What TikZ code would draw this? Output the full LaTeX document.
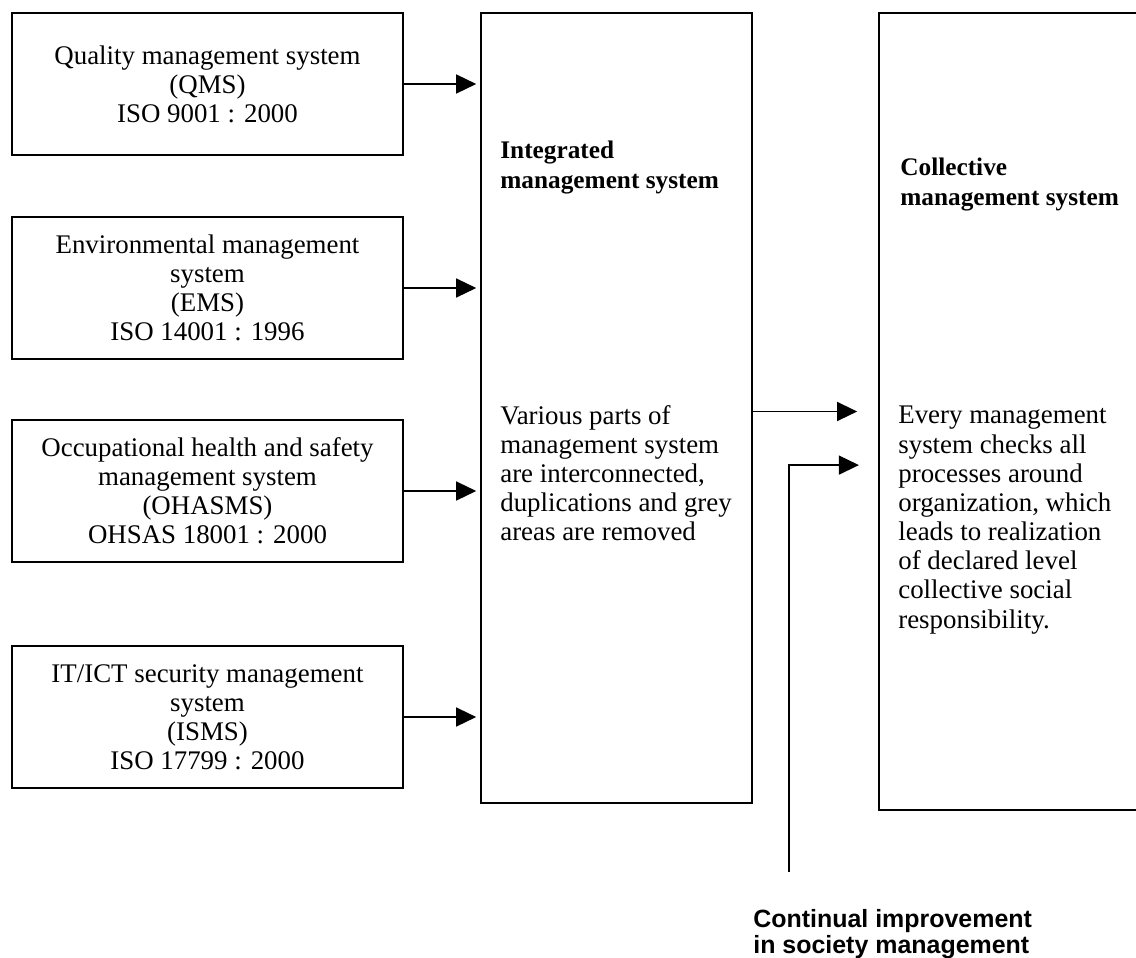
\documentclass[tikz,border=0pt]{standalone}
\usepackage{fontspec}
\setmainfont{Liberation Serif}
\newfontfamily\cilabelfont{Liberation Sans}
\usetikzlibrary{arrows.meta, positioning}

\begin{document}
\begin{tikzpicture}[x=0.02cm, y=-0.02cm,
    sysbox/.style={draw, line width=0.9pt, rectangle, inner sep=0pt,
      minimum width=7.82cm, minimum height=2.84cm, align=center,
      font=\fontsize{15.3}{16.5}\selectfont},
    bigbox/.style={draw, line width=0.9pt, rectangle, inner sep=0pt},
    boxtitle/.style={inner sep=0pt, anchor=north west, align=left,
      font=\fontsize{14.4}{17}\selectfont\bfseries},
    boxtext/.style={inner sep=0pt, anchor=north west, align=left,
      font=\fontsize{15.3}{16.6}\selectfont},
    arr/.style={line width=0.8pt, -{Triangle[length=0.4cm, width=0.38cm]}}]
  \useasboundingbox (0,0) rectangle (1136,957);

  % the four systems on the left
  \node[sysbox] (qms) at (207.5,84) {Quality management system\\(QMS)\\ISO 9001 : 2000};
  \node[sysbox] (ems) at (207.5,288) {Environmental management\\system\\(EMS)\\ISO 14001 : 1996};
  \node[sysbox] (ohasms) at (207.5,491) {Occupational health and safety\\management system\\(OHASMS)\\OHSAS 18001 : 2000};
  \node[sysbox] (isms) at (207.5,717) {IT/ICT security management\\system\\(ISMS)\\ISO 17799 : 2000};

  % integrated management system
  \node[bigbox, minimum width=5.42cm, minimum height=15.8cm] (ims) at (616.5,408) {};
  \node[boxtitle] (imstitle) at (500,141) {Integrated\\management system};
  \node[boxtext] (imstext) at (500,405) {Various parts of\\management system\\are interconnected,\\duplications and grey\\areas are removed};

  % collective management system
  \node[bigbox, minimum width=5.62cm, minimum height=15.94cm] (cms) at (1019.5,411.5) {};
  \node[boxtitle] (cmstitle) at (900,158) {Collective\\management system};
  \node[boxtext] (cmstext) at (898,406) {Every management\\system checks all\\processes around\\organization, which\\leads to realization\\of declared level\\collective social\\responsibility.};

  % continual improvement
  \coordinate (cistart) at (789,872);
  \node[inner sep=0pt, anchor=north west, align=left,
    font=\fontsize{14.2}{14.8}\selectfont\cilabelfont\bfseries] (cilabel) at (753,909)
    {Continual improvement\\in society management};

  % connectors
  \foreach \src in {qms, ems, ohasms, isms}
    \draw[arr, shorten >=2.3pt] (\src.east) -- (\src.east -| ims.west);
  \draw[arr, shorten >=12pt] (ims.east |- cms.west) -- (cms.west);
  \draw[arr, shorten >=11pt] (cistart) |- ([yshift=-30.5pt]cms.west);
\end{tikzpicture}
\end{document}
